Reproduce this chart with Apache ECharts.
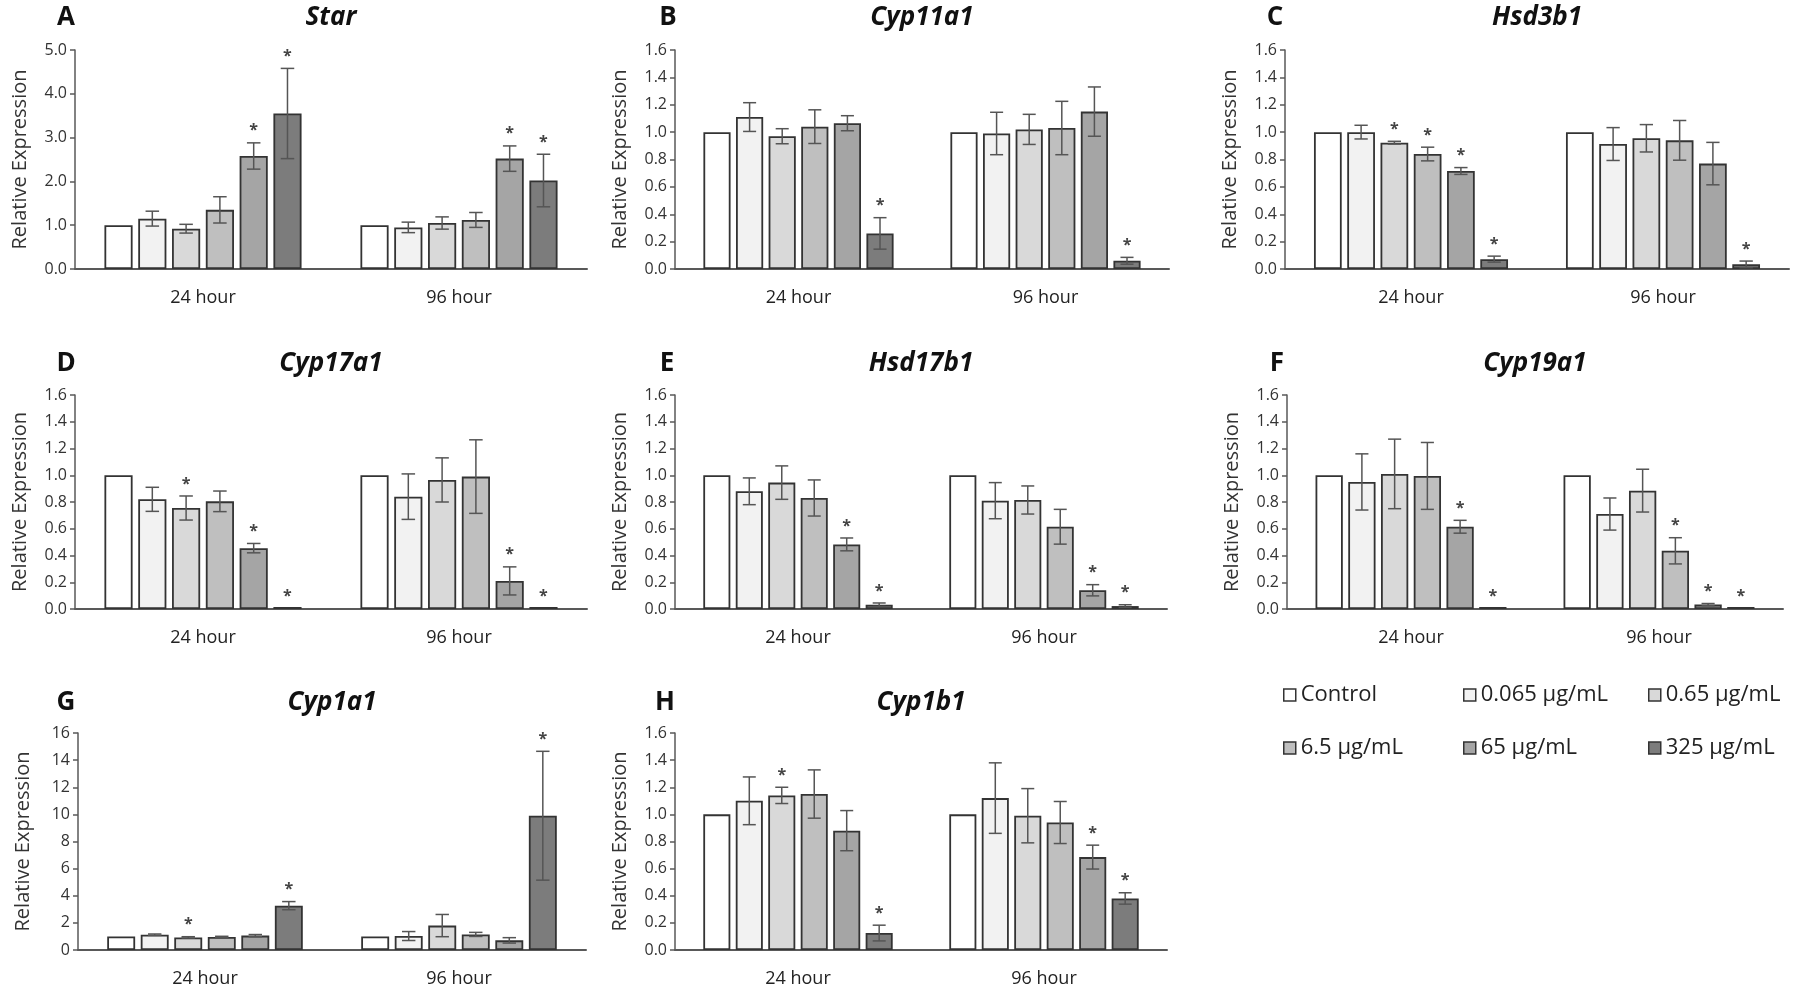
<!DOCTYPE html>
<html>
<head>
<meta charset="utf-8">
<script src="https://cdn.jsdelivr.net/npm/echarts@6/dist/echarts.min.js"></script>
<style>
html, body { margin: 0; padding: 0; background: #fff; }
#main { width: 1800px; height: 988px; }
</style>
</head>
<body>
<div id="main"></div>
<script>
// categories
var timeLabels = ['24 hour', '96 hour'];
var doseNames = ['Control', '0.065 µg/mL', '0.65 µg/mL', '6.5 µg/mL', '65 µg/mL', '325 µg/mL'];

// each array: [24 hour values, 96 hour values], one value per dose
var starMean = [[1.0, 1.15, 0.92, 1.35, 2.58, 3.55], [1.0, 0.95, 1.05, 1.12, 2.52, 2.02]];
var starErr  = [[0, 0.17, 0.10, 0.30, 0.30, 1.03], [0, 0.12, 0.14, 0.17, 0.29, 0.60]];
var starSig  = [[0, 0, 0, 0, 1, 1], [0, 0, 0, 0, 1, 1]];

var cyp11a1Mean = [[1.0, 1.11, 0.97, 1.04, 1.065, 0.26], [1.0, 0.99, 1.02, 1.03, 1.15, 0.06]];
var cyp11a1Err  = [[0, 0.105, 0.055, 0.123, 0.055, 0.115], [0, 0.155, 0.11, 0.195, 0.18, 0.025]];
var cyp11a1Sig  = [[0, 0, 0, 0, 0, 1], [0, 0, 0, 0, 0, 1]];

var hsd3b1Mean = [[1.0, 1.0, 0.923, 0.84, 0.716, 0.072], [1.0, 0.913, 0.955, 0.94, 0.77, 0.034]];
var hsd3b1Err  = [[0, 0.05, 0.01, 0.05, 0.025, 0.022], [0, 0.12, 0.1, 0.145, 0.155, 0.024]];
var hsd3b1Sig  = [[0, 0, 1, 1, 1, 1], [0, 0, 0, 0, 0, 1]];

var cyp17a1Mean = [[1.0, 0.82, 0.755, 0.805, 0.455, 0.005], [1.0, 0.84, 0.965, 0.99, 0.21, 0.005]];
var cyp17a1Err  = [[0, 0.09, 0.09, 0.077, 0.035, 0], [0, 0.17, 0.165, 0.275, 0.105, 0]];
var cyp17a1Sig  = [[0, 0, 1, 0, 1, 1], [0, 0, 0, 0, 1, 1]];

var hsd17b1Mean = [[1.0, 0.88, 0.945, 0.83, 0.483, 0.032], [1.0, 0.81, 0.815, 0.615, 0.14, 0.022]];
var hsd17b1Err  = [[0, 0.1, 0.125, 0.135, 0.048, 0.013], [0, 0.135, 0.105, 0.13, 0.042, 0.01]];
var hsd17b1Sig  = [[0, 0, 0, 0, 1, 1], [0, 0, 0, 0, 1, 1]];

var cyp19a1Mean = [[1.0, 0.95, 1.01, 0.995, 0.615, 0.005], [1.0, 0.71, 0.885, 0.435, 0.033, 0.005]];
var cyp19a1Err  = [[0, 0.21, 0.26, 0.25, 0.048, 0], [0, 0.12, 0.16, 0.098, 0.008, 0]];
var cyp19a1Sig  = [[0, 0, 0, 0, 1, 1], [0, 0, 0, 1, 1, 1]];

var cyp1a1Mean = [[1.0, 1.13, 0.93, 0.96, 1.06, 3.27], [1.0, 1.03, 1.8, 1.15, 0.71, 9.9]];
var cyp1a1Err  = [[0, 0.05, 0.05, 0.05, 0.08, 0.3], [0, 0.33, 0.82, 0.15, 0.2, 4.75]];
var cyp1a1Sig  = [[0, 0, 1, 0, 0, 1], [0, 0, 0, 0, 0, 1]];

var cyp1b1Mean = [[1.0, 1.1, 1.14, 1.15, 0.88, 0.125], [1.0, 1.12, 0.99, 0.94, 0.685, 0.38]];
var cyp1b1Err  = [[0, 0.176, 0.06, 0.178, 0.148, 0.058], [0, 0.26, 0.2, 0.155, 0.088, 0.042]];
var cyp1b1Sig  = [[0, 0, 1, 0, 0, 1], [0, 0, 0, 0, 1, 1]];

// y axis ticks
var ticksStar = { max: 5, step: 1, dec: 1 };
var ticksRel = { max: 1.6, step: 0.2, dec: 1 };
var ticksCyp1a1 = { max: 16, step: 2, dec: 0 };

var doseColors = ['#ffffff', '#f2f2f2', '#d9d9d9', '#bfbfbf', '#a5a5a5', '#7c7c7c'];
var FONT = 'Open Sans';

var panels = [
    { letter: 'A', gene: 'Star',    mean: starMean,    err: starErr,    sig: starSig,    ticks: ticksStar,   box: [75, 50, 512, 219],  letterX: 66 },
    { letter: 'B', gene: 'Cyp11a1', mean: cyp11a1Mean, err: cyp11a1Err, sig: cyp11a1Sig, ticks: ticksRel,    box: [675, 50, 494, 219], letterX: 668 },
    { letter: 'C', gene: 'Hsd3b1',  mean: hsd3b1Mean,  err: hsd3b1Err,  sig: hsd3b1Sig,  ticks: ticksRel,    box: [1285, 50, 504, 219], letterX: 1275 },
    { letter: 'D', gene: 'Cyp17a1', mean: cyp17a1Mean, err: cyp17a1Err, sig: cyp17a1Sig, ticks: ticksRel,    box: [75, 395, 512, 214], letterX: 66 },
    { letter: 'E', gene: 'Hsd17b1', mean: hsd17b1Mean, err: hsd17b1Err, sig: hsd17b1Sig, ticks: ticksRel,    box: [675, 395, 492, 214], letterX: 667 },
    { letter: 'F', gene: 'Cyp19a1', mean: cyp19a1Mean, err: cyp19a1Err, sig: cyp19a1Sig, ticks: ticksRel,    box: [1287, 395, 496, 214], letterX: 1277 },
    { letter: 'G', gene: 'Cyp1a1',  mean: cyp1a1Mean,  err: cyp1a1Err,  sig: cyp1a1Sig,  ticks: ticksCyp1a1, box: [78, 733, 508, 218], letterX: 66 },
    { letter: 'H', gene: 'Cyp1b1',  mean: cyp1b1Mean,  err: cyp1b1Err,  sig: cyp1b1Sig,  ticks: ticksRel,    box: [675, 733, 492, 218], letterX: 665 }
];
var titleY = [22, 22, 22, 368, 368, 368, 707, 707];

var CAT_GAP = 0.23;   // barCategoryGap
var BAR_GAP = 0.2;    // barGap

// error bars + significance stars
function renderErr(params, api) {
    var cat = api.value(0);
    var idx = api.value(1);
    var m = api.value(2);
    var e = api.value(3);
    var s = api.value(4);
    var band = api.size([1, 0])[0];
    var groupW = band * (1 - CAT_GAP);
    var barW = groupW / (6 + 5 * BAR_GAP);
    var c = api.coord([cat, m]);
    var x = c[0] - groupW / 2 + idx * barW * (1 + BAR_GAP) + barW / 2;
    var top = api.coord([cat, m + e])[1];
    var bot = api.coord([cat, Math.max(m - e, 0)])[1];
    var st = { stroke: '#555', lineWidth: 1.5 };
    var cap = barW * 0.24;
    var children = [];
    if (e > 0) {
        children.push({ type: 'line', shape: { x1: x, y1: top, x2: x, y2: bot }, style: st });
        children.push({ type: 'line', shape: { x1: x - cap, y1: top, x2: x + cap, y2: top }, style: st });
        children.push({ type: 'line', shape: { x1: x - cap, y1: bot, x2: x + cap, y2: bot }, style: st });
    }
    if (s) {
        children.push({
            type: 'text',
            style: {
                text: '*', x: x, y: top - 12, align: 'center', verticalAlign: 'middle',
                font: 'bold 16px "' + FONT + '"', fill: '#444'
            }
        });
    }
    return { type: 'group', children: children };
}

var grids = [], xAxes = [], yAxes = [], series = [], titles = [];

panels.forEach(function (p, g) {
    grids.push({ left: p.box[0], top: p.box[1], width: p.box[2], height: p.box[3] });

    xAxes.push({
        type: 'category', gridIndex: g, data: timeLabels,
        axisLine: { lineStyle: { color: '#595959', width: 2 } },
        axisTick: { show: false },
        axisLabel: { fontFamily: FONT, fontSize: 18, color: '#222', margin: 20 }
    });

    yAxes.push({
        type: 'value', gridIndex: g, min: 0, max: p.ticks.max, interval: p.ticks.step,
        name: 'Relative Expression', nameLocation: 'middle', nameGap: 45,
        nameTextStyle: { fontFamily: FONT, fontSize: 20, color: '#333' },
        axisLine: { show: true, lineStyle: { color: '#595959', width: 1.5 } },
        axisTick: { show: true, length: 5, lineStyle: { color: '#595959', width: 1.5 } },
        splitLine: { show: false },
        axisLabel: {
            fontFamily: FONT, fontSize: 16, color: '#333', margin: 8,
            formatter: (function (d) { return function (v) { return v.toFixed(d); }; })(p.ticks.dec)
        }
    });

    doseNames.forEach(function (name, i) {
        series.push({
            name: name, type: 'bar', xAxisIndex: g, yAxisIndex: g,
            barGap: (BAR_GAP * 100) + '%', barCategoryGap: (CAT_GAP * 100) + '%',
            barMinHeight: 2,
            itemStyle: { color: doseColors[i], borderColor: '#333', borderWidth: 1.8 },
            data: [p.mean[0][i], p.mean[1][i]]
        });
    });

    var errData = [];
    for (var t = 0; t < 2; t++) {
        for (var i = 0; i < 6; i++) {
            errData.push([t, i, p.mean[t][i], p.err[t][i], p.sig[t][i]]);
        }
    }
    series.push({
        type: 'custom', xAxisIndex: g, yAxisIndex: g, renderItem: renderErr,
        encode: { x: 0, y: 2 }, data: errData, z: 10, silent: true
    });

    titles.push({
        text: p.gene, left: p.box[0] + p.box[2] / 2, top: titleY[g] - 17, textAlign: 'center', padding: 0,
        textStyle: { fontFamily: FONT, fontSize: 26, fontWeight: 'bold', fontStyle: 'italic', color: '#111' }
    });
    titles.push({
        text: p.letter, left: p.letterX, top: titleY[g] - 17, textAlign: 'center', padding: 0,
        textStyle: { fontFamily: FONT, fontSize: 26, fontWeight: 'bold', color: '#111' }
    });
});

// legend: 3 columns x 2 rows
var legendLeft = [1283, 1463, 1648];
var legendTop = [684, 737];
var legends = doseNames.map(function (name, i) {
    return {
        data: [name], left: legendLeft[i % 3], top: legendTop[Math.floor(i / 3)],
        padding: 0, itemWidth: 12, itemHeight: 12, icon: 'rect', selectedMode: false,
        itemStyle: { borderColor: '#333', borderWidth: 1.5 },
        textStyle: { fontFamily: FONT, fontSize: 22, color: '#222' }
    };
});

var chart = echarts.init(document.getElementById('main'));
chart.setOption({
    animation: false,
    backgroundColor: '#fff',
    title: titles,
    legend: legends,
    grid: grids,
    xAxis: xAxes,
    yAxis: yAxes,
    series: series
});
</script>
</body>
</html>
